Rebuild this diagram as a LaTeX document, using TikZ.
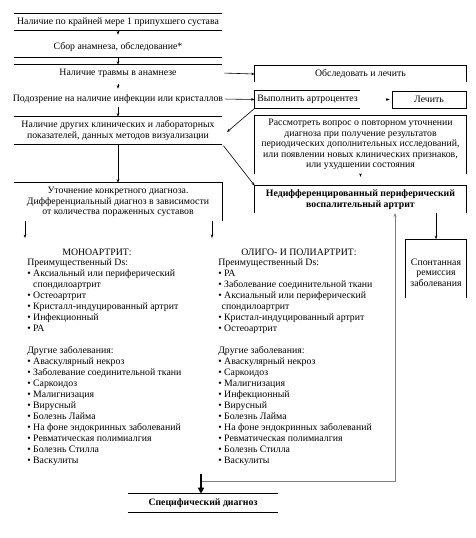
\documentclass[tikz,border=0pt]{standalone}
\usepackage{fontspec}
\setmainfont{Liberation Serif}
\usetikzlibrary{arrows.meta, positioning, calc}

\begin{document}
\begin{tikzpicture}[x=1pt, y=-1pt, line width=0.6pt,
    every node/.style={font=\fontsize{9.8}{10.5}\selectfont, inner sep=0pt, align=center},
    arr/.style={-{Stealth[length=3.5pt, width=2.6pt]}},
    grayarr/.style={-{Stealth[length=4pt, width=3pt]}, gray},
    boldarr/.style={-{Triangle[length=6pt, width=6pt]}, line width=1.4pt},
    colbox/.style={minimum width=208},
    rightbox/.style={minimum width=211},
    listtext/.style={anchor=north west, align=left, font=\fontsize{9.8}{11}\selectfont}]
    \useasboundingbox (0,0) rectangle (475,538);

    % Main column
    \node[colbox, minimum height=16] (swell) at (118,22) {Наличие по крайней мере 1 припухшего сустава};
    \node[colbox, minimum height=20] (anam) at (118,47) {Сбор анамнеза, обследование*};
    \node[colbox, minimum height=16] (trauma) at (118,73) {Наличие травмы в анамнезе};
    \node[colbox, minimum height=16] (infect) at (118,99) {Подозрение на наличие инфекции или кристаллов};
    \node[colbox, minimum height=27] (other) at (118,130.5) {Наличие других клинических и лабораторных\\показателей, данных методов визуализации};
    \node[colbox, minimum height=38] (refine) at (118,202) {Уточнение конкретного диагноза.\\Дифференциальный диагноз в зависимости\\от количества пораженных суставов};

    % Box edges (partly open)
    \draw (swell.north west) -- (swell.north east) (swell.south west) -- (swell.south east);
    \draw (anam.south west) -- (anam.south east);
    \draw (trauma.north west) -- (trauma.north east);
    \draw (other.north west) -- (other.north east) (other.south west) -- (other.south east);
    \draw (refine.north west) -- (refine.north east) -- (refine.south east);

    % Down the column
    \draw[arr, shorten >=2pt] (swell.south) -- (anam.north);
    \draw[arr] (anam.south) -- (trauma.north);
    \draw[arr, shorten <=3pt, shorten >=2pt] (trauma.south) -- (infect.north);
    \draw[arr] (infect.south) -- (other.north);
    \draw[arr] (other.south) -- (refine.north);

    % Right column
    \node[rightbox, minimum height=16] (exam) at (360.5,74) {Обследовать и лечить};
    \node[minimum width=105, minimum height=17] (punct) at (307.5,99.5) {Выполнить артроцентез};
    \node[draw, minimum width=74, minimum height=17] (treat) at (429,99.5) {Лечить};
    \node[rightbox, minimum height=58] (consider) at (360.5,144.5) {Рассмотреть вопрос о повторном уточнении\\диагноза при получение результатов\\периодических дополнительных исследований,\\или появлении новых клинических признаков,\\или ухудшении состояния};
    \node[rightbox, minimum height=27, font=\fontsize{9.8}{11}\selectfont\bfseries] (undiff) at (360.5,199.5) {Недифференцированный периферический\\воспалительный артрит};
    \node[minimum width=60, minimum height=66] (remis) at (436,272.5) {Спонтанная\\ремиссия\\заболевания};

    \draw (exam.south west) -- (exam.north west) -- (exam.north east) -- (exam.south east);
    \draw (punct.north east) -- (punct.north west) -- (punct.south west) -- (punct.south east);
    \draw (consider.south west) -- (consider.north west) -- (consider.north east) -- (consider.south east);
    \draw (undiff.south west) ++(0,-0.5) -- (undiff.north west) -- (undiff.north east) -- ++(0,27);
    \draw (remis.north west) ++(0,59) -- (remis.north west) -- (remis.north east) -- ++(0,59);

    % Arrows to the right column
    \coordinate (back) at (227,132);
    \draw[arr, shorten <=2pt] (trauma.east) -- (exam.west);
    \draw[arr, shorten <=2pt] (infect.east) -- (punct.west);
    \draw[arr, shorten >=2pt] ($(treat.west)+(-6,0)$) -- (treat.west);
    \draw[arr] (punct.south west) -- (back);
    \draw[arr] (consider.south) -- ++(0,3);
    \draw[arr, shorten <=2pt] (other.south east) -- (undiff.north west);
    \draw[arr] (undiff.south -| remis.north) -- (remis.north);

    % Split by number of joints
    \coordinate (mono) at (25,238);
    \coordinate (poly) at (212,238);
    \draw[arr] (refine.south west -| mono) -- (mono);
    \draw[arr] (refine.south west -| poly) -- (poly);

    \node (monot) at (97,252) {МОНОАРТРИТ:};
    \node (polyt) at (299,252) {ОЛИГО- И ПОЛИАРТРИТ:};

    \node[listtext] (monol) at (27,258.5) {Преимущественный Ds:\\
        • Аксиальный или периферический\\
        \phantom{• }спондилоартрит\\
        • Остеоартрит\\
        • Кристалл-индуцированный артрит\\
        • Инфекционный\\
        • РА\\[11pt]
        Другие заболевания:\\
        • Аваскулярный некроз\\
        • Заболевание соединительной ткани\\
        • Саркоидоз\\
        • Малигнизация\\
        • Вирусный\\
        • Болезнь Лайма\\
        • На фоне эндокринных заболеваний\\
        • Ревматическая полимиалгия\\
        • Болезнь Стилла\\
        • Васкулиты};

    \node[listtext] (polyl) at (218,258.5) {Преимущественный Ds:\\
        • РА\\
        • Заболевание соединительной ткани\\
        • Аксиальный или периферический\\
        \phantom{•}спондилоартрит\\
        • Кристал-индуцированный артрит\\
        • Остеоартрит\\[11pt]
        Другие заболевания:\\
        • Аваскулярный некроз\\
        • Саркоидоз\\
        • Малигнизация\\
        • Инфекционный\\
        • Вирусный\\
        • Болезнь Лайма\\
        • На фоне эндокринных заболеваний\\
        • Ревматическая полимиалгия\\
        • Болезнь Стилла\\
        • Васкулиты};

    % Specific diagnosis
    \node[minimum width=150, minimum height=18, font=\fontsize{9.8}{11}\selectfont\bfseries] (spec) at (203,503) {Специфический диагноз};
    \draw (spec.north west) -- (spec.north east) (spec.south west) -- (spec.south east);

    \coordinate (jn) at (201,481);
    \coordinate (bt) at (201,474);
    \coordinate (up) at (395,213);
    \draw[grayarr] (jn) -| (up);
    \draw[boldarr] (bt) -- (bt |- spec.north);
\end{tikzpicture}
\end{document}
